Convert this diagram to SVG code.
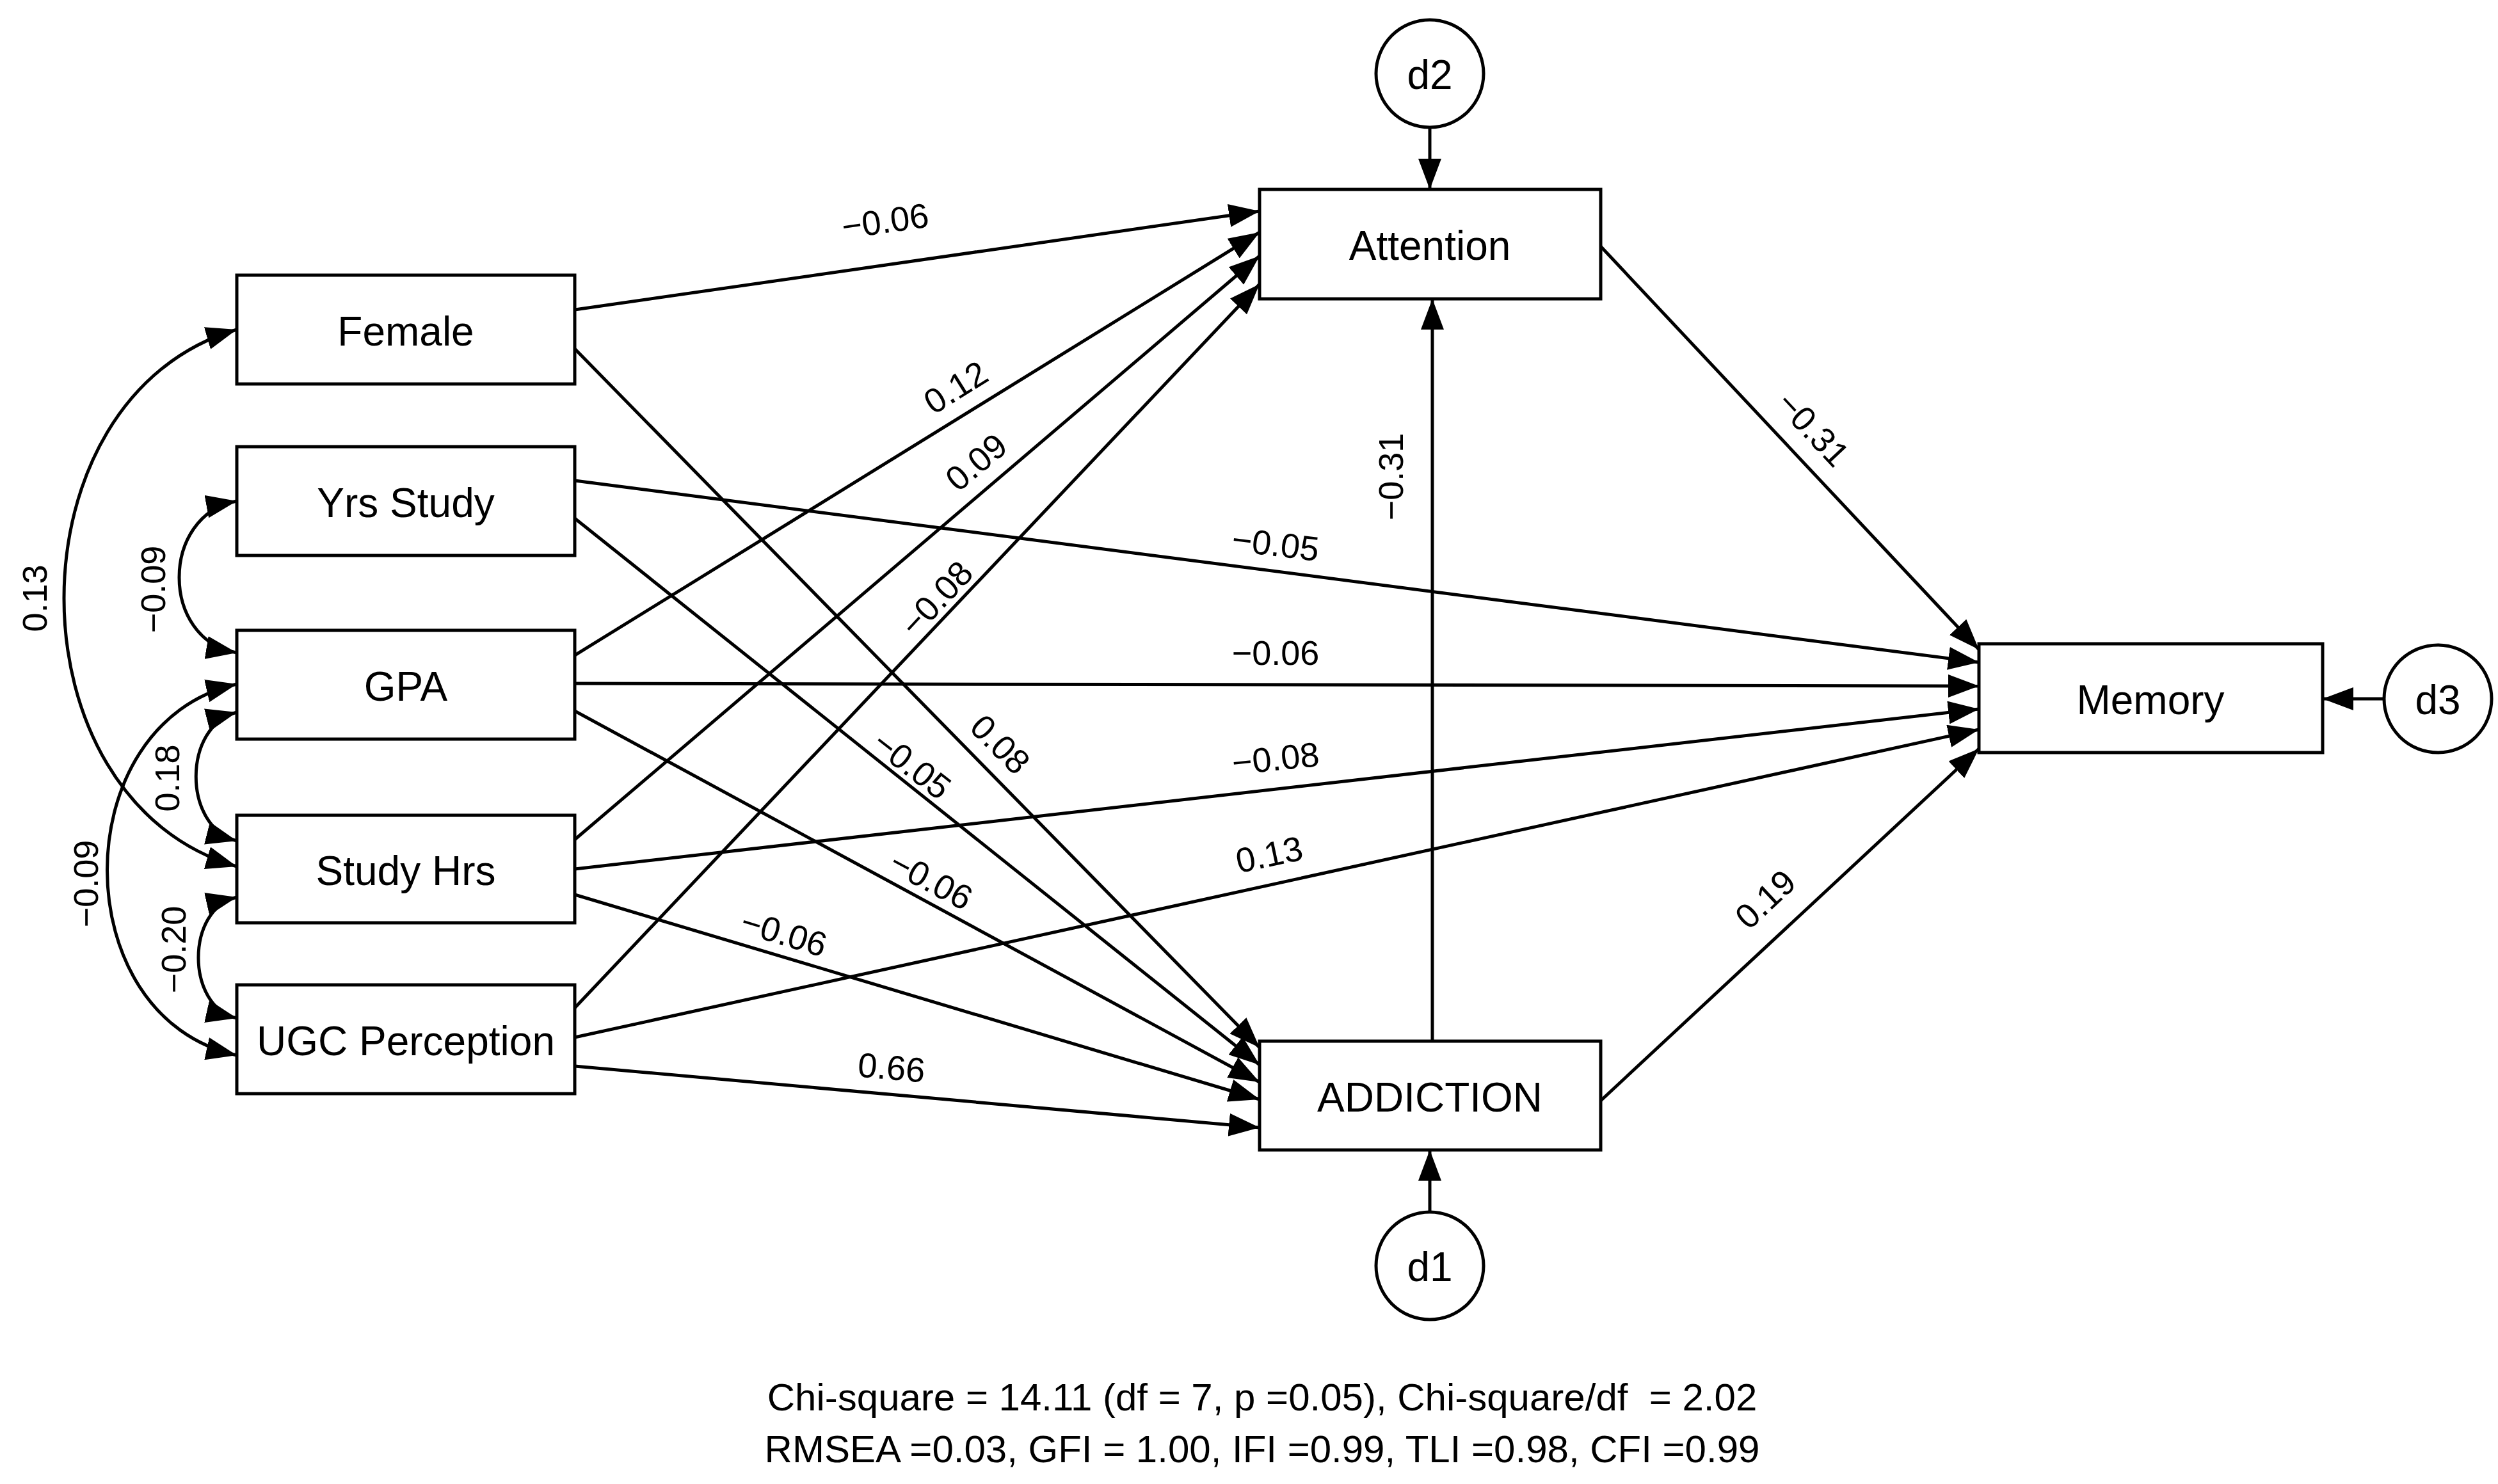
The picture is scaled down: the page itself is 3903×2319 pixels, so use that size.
<svg xmlns="http://www.w3.org/2000/svg" width="3903" height="2319" viewBox="0 0 3903 2319">
<style>
.box{fill:#fff;stroke:#000;stroke-width:5}
.t{font-family:"Liberation Sans",Arial,sans-serif;font-size:64px;text-anchor:middle;dominant-baseline:central;fill:#000}
.l{font-family:"Liberation Sans",Arial,sans-serif;font-size:54px;text-anchor:middle;dominant-baseline:central;fill:#000}
.f{font-family:"Liberation Sans",Arial,sans-serif;font-size:60px;text-anchor:middle;fill:#000}
.e{fill:none;stroke:#000;stroke-width:5}
</style>
<defs>
<marker id="a" markerUnits="userSpaceOnUse" markerWidth="50" markerHeight="36" refX="48" refY="18" orient="auto-start-reverse">
<path d="M0,0 L48,18 L0,36 Z" fill="#000"/>
</marker>
</defs>
<rect width="3903" height="2319" fill="#fff"/>
<g id="connectors">
<line class="e" marker-end="url(#a)" x1="898" y1="484" x2="1968" y2="330"/>
<line class="e" marker-end="url(#a)" x1="898" y1="545" x2="1968" y2="1637"/>
<line class="e" marker-end="url(#a)" x1="898" y1="751" x2="3092" y2="1035"/>
<line class="e" marker-end="url(#a)" x1="898" y1="810" x2="1968" y2="1664"/>
<line class="e" marker-end="url(#a)" x1="898" y1="1024" x2="1968" y2="363"/>
<line class="e" marker-end="url(#a)" x1="898" y1="1068" x2="3092" y2="1072"/>
<line class="e" marker-end="url(#a)" x1="898" y1="1111" x2="1968" y2="1691"/>
<line class="e" marker-end="url(#a)" x1="898" y1="1312" x2="1968" y2="400"/>
<line class="e" marker-end="url(#a)" x1="898" y1="1358" x2="3092" y2="1108"/>
<line class="e" marker-end="url(#a)" x1="898" y1="1398" x2="1968" y2="1718"/>
<line class="e" marker-end="url(#a)" x1="898" y1="1575" x2="1968" y2="444"/>
<line class="e" marker-end="url(#a)" x1="898" y1="1621" x2="3092" y2="1140"/>
<line class="e" marker-end="url(#a)" x1="898" y1="1666" x2="1968" y2="1762"/>
<line class="e" marker-end="url(#a)" x1="2501" y1="385" x2="3092" y2="1015"/>
<line class="e" marker-end="url(#a)" x1="2501" y1="1720" x2="3092" y2="1170"/>
<line class="e" marker-end="url(#a)" x1="2238" y1="1627" x2="2238" y2="467"/>
<line class="e" marker-end="url(#a)" x1="2234" y1="199" x2="2234" y2="296"/>
<line class="e" marker-end="url(#a)" x1="2234" y1="1894" x2="2234" y2="1797"/>
<line class="e" marker-end="url(#a)" x1="3725" y1="1092" x2="3629" y2="1092"/>
<path class="e" marker-start="url(#a)" marker-end="url(#a)" d="M370,515 C10,620 10,1250 370,1354"/>
<path class="e" marker-start="url(#a)" marker-end="url(#a)" d="M370,783 C250,805 250,1000 370,1020"/>
<path class="e" marker-start="url(#a)" marker-end="url(#a)" d="M370,1113 C285,1135 285,1292 370,1314"/>
<path class="e" marker-start="url(#a)" marker-end="url(#a)" d="M370,1069 C100,1130 100,1590 370,1649"/>
<path class="e" marker-start="url(#a)" marker-end="url(#a)" d="M370,1402 C290,1420 290,1573 370,1591"/>
</g>
<g id="labels">
<text class="l" transform="translate(1383,345) rotate(-8)">−0.06</text>
<text class="l" transform="translate(1493,605) rotate(-32)">0.12</text>
<text class="l" transform="translate(1525,722) rotate(-40)">0.09</text>
<text class="l" transform="translate(1463,935) rotate(-47)">−0.08</text>
<text class="l" transform="translate(1563,1163) rotate(45)">0.08</text>
<text class="l" transform="translate(1425,1195) rotate(38)">−0.05</text>
<text class="l" transform="translate(1455,1375) rotate(28)">−0.06</text>
<text class="l" transform="translate(1225,1458) rotate(17)">−0.06</text>
<text class="l" transform="translate(1393,1668) rotate(5)">0.66</text>
<text class="l" transform="translate(1993,850) rotate(7)">−0.05</text>
<text class="l" transform="translate(1993,1020)">−0.06</text>
<text class="l" transform="translate(1993,1185) rotate(-6)">−0.08</text>
<text class="l" transform="translate(1983,1335) rotate(-12)">0.13</text>
<text class="l" transform="translate(2758,1405) rotate(-43)">0.19</text>
<text class="l" transform="translate(2833,670) rotate(47)">−0.31</text>
<text class="l" transform="translate(2173,745) rotate(-90)">−0.31</text>
<text class="l" transform="translate(54,935) rotate(-90)">0.13</text>
<text class="l" transform="translate(239,921) rotate(-90)">−0.09</text>
<text class="l" transform="translate(261,1216) rotate(-90)">0.18</text>
<text class="l" transform="translate(134,1381) rotate(-90)">−0.09</text>
<text class="l" transform="translate(271,1484) rotate(-90)">−0.20</text>
</g>
<g id="female"><rect class="box" x="370" y="430" width="528" height="170"/><text class="t" x="634" y="518">Female</text></g>
<g id="yrs"><rect class="box" x="370" y="698" width="528" height="170"/><text class="t" x="634" y="786">Yrs Study</text></g>
<g id="gpa"><rect class="box" x="370" y="985" width="528" height="170"/><text class="t" x="634" y="1073">GPA</text></g>
<g id="studyhrs"><rect class="box" x="370" y="1274" width="528" height="168"/><text class="t" x="634" y="1361">Study Hrs</text></g>
<g id="ugc"><rect class="box" x="370" y="1539" width="528" height="170"/><text class="t" x="634" y="1627">UGC Perception</text></g>
<g id="attention"><rect class="box" x="1968" y="296" width="533" height="171"/><text class="t" x="2234" y="384">Attention</text></g>
<g id="addiction"><rect class="box" x="1968" y="1627" width="533" height="170"/><text class="t" x="2234" y="1715">ADDICTION</text></g>
<g id="memory"><rect class="box" x="3092" y="1006" width="537" height="170"/><text class="t" x="3360" y="1094">Memory</text></g>
<g id="d2"><circle class="box" cx="2234" cy="115" r="84"/><text class="t" x="2234" y="117">d2</text></g>
<g id="d1"><circle class="box" cx="2234" cy="1978" r="84"/><text class="t" x="2234" y="1980">d1</text></g>
<g id="d3"><circle class="box" cx="3809" cy="1092" r="84"/><text class="t" x="3809" y="1094">d3</text></g>
<g id="footer">
<text class="f" x="1972" y="2204" xml:space="preserve">Chi-square = 14.11 (df = 7, p =0.05), Chi-square/df  = 2.02</text>
<text class="f" x="1972" y="2285">RMSEA =0.03, GFI = 1.00, IFI =0.99, TLI =0.98, CFI =0.99</text>
</g>
</svg>
